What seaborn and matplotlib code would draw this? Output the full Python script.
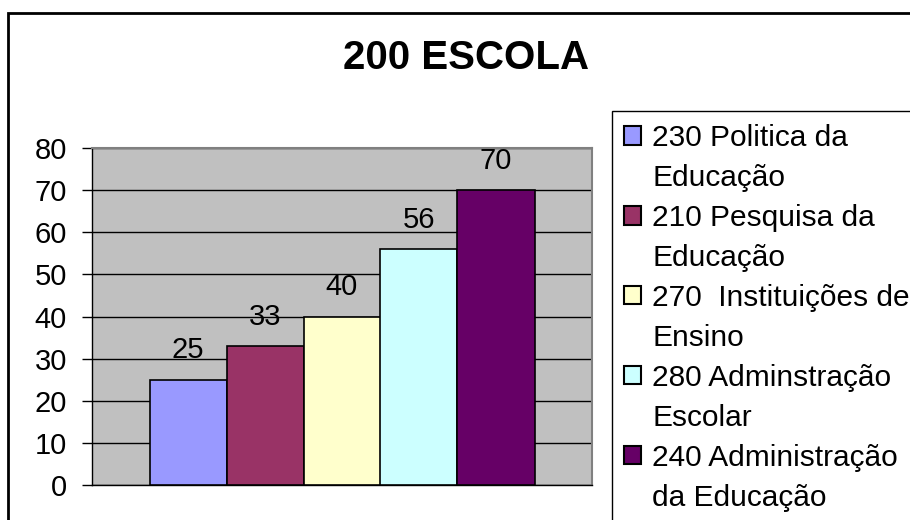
import seaborn as sns
import matplotlib.pyplot as plt
import matplotlib.patches as mpatches
import pandas as pd

# Chart data
disciplinas = [
    "230 Politica da\nEducação",
    "210 Pesquisa da\nEducação",
    "270  Instituições de\nEnsino",
    "280 Adminstração\nEscolar",
    "240 Administração\nda Educação",
]
valores = [25, 33, 40, 56, 70]
cores = ["#9999FF", "#993366", "#FFFFCC", "#CCFFFF", "#660066"]
yticks = [0, 10, 20, 30, 40, 50, 60, 70, 80]

df = pd.DataFrame({"grupo": ["200 ESCOLA"] * len(valores),
                   "disciplina": disciplinas,
                   "valor": valores})

sns.set_theme(style="white")
plt.rcParams["font.family"] = ["Liberation Sans", "DejaVu Sans"]
for key in ["text.color", "axes.labelcolor", "xtick.color", "ytick.color"]:
    plt.rcParams[key] = "black"

fig = plt.figure(figsize=(9.1, 5.2), dpi=100)
ax = fig.add_axes([92 / 910, 1 - 485 / 520, 500 / 910, 337 / 520])
ax.set_facecolor("#C0C0C0")

sns.barplot(data=df, x="grupo", y="valor", hue="disciplina",
            palette=cores, saturation=1, width=0.77, errorbar=None,
            edgecolor="black", linewidth=1.2, ax=ax, legend=True, zorder=3)

for cont in ax.containers:
    ax.bar_label(cont, fontsize=21, padding=11)

ax.set_xlim(-0.5, 0.5)
ax.set_ylim(0, 80)
ax.set_yticks(yticks)
ax.yaxis.grid(True, color="black", lw=1, zorder=0)
ax.set_axisbelow(True)
ax.set_xticks([])
ax.set_xlabel("")
ax.set_ylabel("")
ax.tick_params(axis="y", left=True, length=7, width=1, color="black",
               direction="out", labelsize=21, pad=11)
for side in ["left", "bottom"]:
    ax.spines[side].set_color("black")
    ax.spines[side].set_linewidth(1)
for side in ["top", "right"]:
    ax.spines[side].set_color("#808080")
    ax.spines[side].set_linewidth(1.5)

# legend on the right: one row per text line, square only on the first line
handles, labels = ax.get_legend_handles_labels()
ax.get_legend().remove()
leg_handles, leg_labels = [], []
for h, lab in zip(handles, labels):
    first, second = lab.split("\n")
    h.set_linewidth(1.5)
    leg_handles += [h, mpatches.Patch(facecolor="none", edgecolor="none")]
    leg_labels += [first, second]

leg = fig.legend(leg_handles, leg_labels, loc="upper left",
                 bbox_to_anchor=(624 / 910, 1 - 124 / 520),
                 frameon=False, fontsize=21.5, handlelength=0.57,
                 handleheight=0.57, handletextpad=0.37, labelspacing=0.4,
                 borderaxespad=0, borderpad=0)

fig.text(466 / 910, 1 - 58 / 520, "200 ESCOLA", ha="center",
         va="center", fontsize=29, fontweight="bold")

# outer chart border and legend border
fig.patches.append(mpatches.Rectangle((8 / 910, -0.1), 1.2, 0.975 + 0.1,
                                      transform=fig.transFigure, fill=False,
                                      lw=2, ec="black", clip_on=False))
fig.patches.append(mpatches.Rectangle((612 / 910, -0.1), 1, 1 - 111 / 520 + 0.1,
                                      transform=fig.transFigure, fill=False,
                                      lw=1, ec="black", clip_on=False))

plt.savefig("out.png", dpi=100)
plt.close()
